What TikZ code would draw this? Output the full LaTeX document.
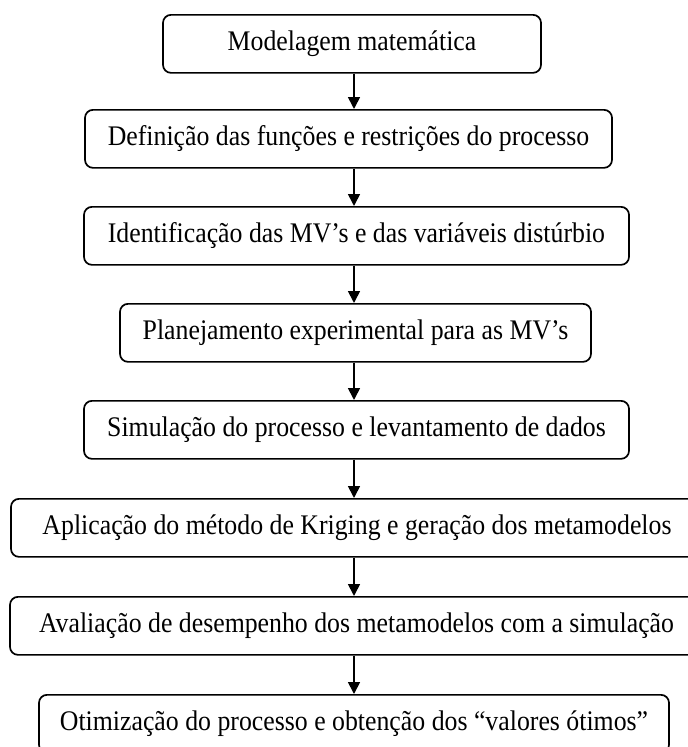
\documentclass[tikz,border=0pt]{standalone}
\usepackage{fontspec}
\usepackage{graphicx}
\setmainfont{Liberation Serif}
\usetikzlibrary{arrows.meta}
\newcommand{\vstr}[1]{\scalebox{1}[1.1]{#1}}
\tikzset{
  stepbox/.style={draw, line width=1.7pt, rounded corners=8pt, minimum height=58pt,
    inner sep=0pt, anchor=north, font=\fontsize{25.8}{30}\selectfont},
  flowarrow/.style={line width=1.7pt, -{Triangle[width=12pt,length=12pt]}}
}
\begin{document}
\begin{tikzpicture}[x=1pt,y=-1pt]
\useasboundingbox (0,0) rectangle (688,747);
\clip (0,0) rectangle (688,747);
\coordinate (ax) at (354,0);
\node[stepbox, minimum width=378pt] (b1) at (352,14) {\vstr{Modelagem matemática}};
\node[stepbox, minimum width=527pt] (b2) at (348.5,109) {\vstr{Definição das funções e restrições do processo}};
\node[stepbox, minimum width=545pt] (b3) at (356.5,206) {\vstr{Identificação das MV’s e das variáveis distúrbio}};
\node[stepbox, minimum width=471pt] (b4) at (355.5,303) {\vstr{Planejamento experimental para as MV’s}};
\node[stepbox, minimum width=545pt] (b5) at (356.5,400) {\vstr{Simulação do processo e levantamento de dados}};
\node[stepbox, minimum width=692pt] (b6) at (357,498) {\vstr{Aplicação do método de Kriging e geração dos metamodelos}};
\node[stepbox, minimum width=693pt] (b7) at (356.5,596) {\vstr{Avaliação de desempenho dos metamodelos com a simulação}};
\node[stepbox, minimum width=630pt] (b8) at (354,694) {\vstr{Otimização do processo e obtenção dos “valores ótimos”}};
\foreach \a/\b in {b1/b2,b2/b3,b3/b4,b4/b5,b5/b6,b6/b7,b7/b8}
  \draw[flowarrow] (\a.south -| ax) -- (\b.north -| ax);
\end{tikzpicture}
\end{document}
